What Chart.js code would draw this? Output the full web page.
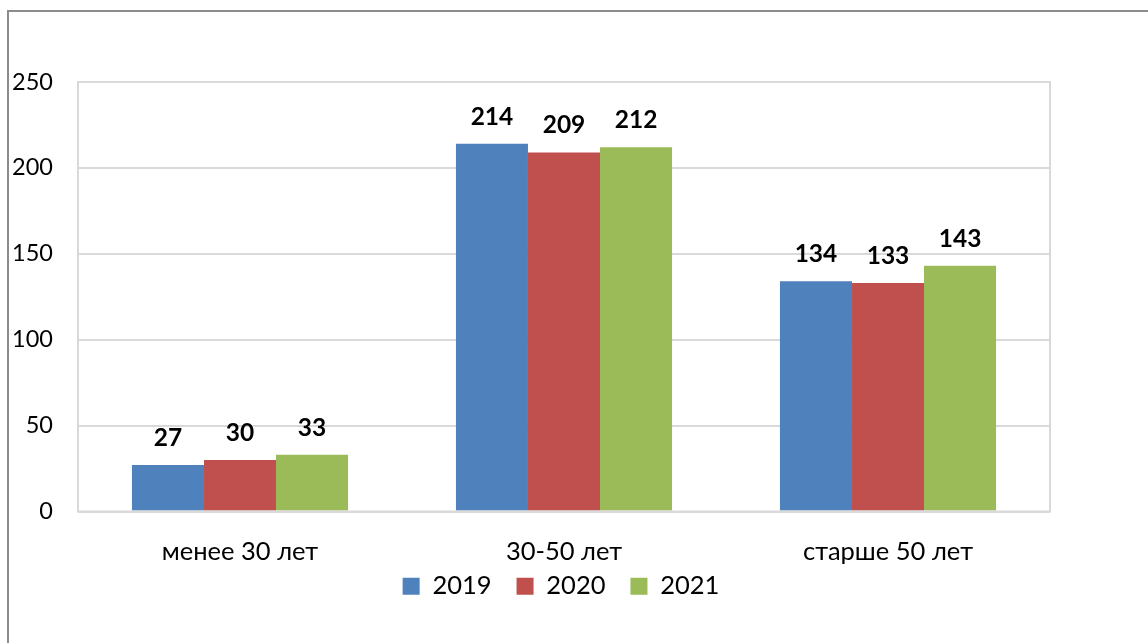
<!DOCTYPE html>
<html>
<head>
<meta charset="utf-8">
<script src="https://cdn.jsdelivr.net/npm/chart.js@4.4.1/dist/chart.umd.min.js"></script>
<style>
  html, body { margin: 0; padding: 0; background: #fff; }
  body { width: 1148px; height: 643px; position: relative; overflow: hidden; }
  #frame {
    position: absolute; left: 7px; top: 10px; width: 1200px; height: 700px;
    border-top: 2px solid #8c8c8c; border-left: 2px solid #8c8c8c;
  }
  #wrap { position: absolute; left: 0; top: 0; width: 1148px; height: 643px; }
</style>
</head>
<body>
<div id="frame"></div>
<div id="wrap"><canvas id="c" width="1148" height="643"></canvas></div>
<script>
// Age groups and staff counts per year
const categories = ['менее 30 лет', '30-50 лет', 'старше 50 лет'];
const years = ['2019', '2020', '2021'];
const values2019 = [27, 214, 134];
const values2020 = [30, 209, 133];
const values2021 = [33, 212, 143];
const yTicks = [0, 50, 100, 150, 200, 250];

const colors = ['#4f81bd', '#c0504d', '#9bbb59'];
const FONT = 'Lato, Carlito, Calibri, "Open Sans", sans-serif';

// Frame around the plot area
const plotBorder = {
  id: 'plotBorder',
  afterDraw(chart) {
    const a = chart.chartArea, ctx = chart.ctx;
    ctx.save();
    ctx.strokeStyle = '#d9d9d9';
    ctx.lineWidth = 2;
    ctx.strokeRect(a.left, a.top, a.right - a.left, a.bottom - a.top);
    ctx.restore();
  }
};

// Bold value labels above each bar
const valueLabels = {
  id: 'valueLabels',
  afterDatasetsDraw(chart) {
    const ctx = chart.ctx;
    ctx.save();
    ctx.font = 'bold 24.5px ' + FONT;
    ctx.fillStyle = '#000';
    ctx.textAlign = 'center';
    ctx.textBaseline = 'middle';
    chart.data.datasets.forEach((ds, i) => {
      chart.getDatasetMeta(i).data.forEach((bar, j) => {
        ctx.fillText(String(ds.data[j]), bar.x, bar.y - 27);
      });
    });
    ctx.restore();
  }
};

// Pull the legend up closer to the category labels and centre it on the frame
const legendPlacement = {
  id: 'legendPlacement',
  afterLayout(chart) {
    const lg = chart.legend;
    if (!lg) return;
    const dy = 23, dx = 36;
    lg.top -= dy; lg.bottom -= dy;
    lg.left += dx; lg.right += dx;
  }
};

new Chart(document.getElementById('c'), {
  type: 'bar',
  data: {
    labels: categories,
    datasets: [
      { label: years[0], data: values2019, backgroundColor: colors[0] },
      { label: years[1], data: values2020, backgroundColor: colors[1] },
      { label: years[2], data: values2021, backgroundColor: colors[2] }
    ]
  },
  options: {
    responsive: false,
    animation: false,
    devicePixelRatio: 1,
    layout: { padding: { left: 0, right: 98, top: 82, bottom: 11 } },
    datasets: { bar: { barPercentage: 1.0, categoryPercentage: 0.667, borderWidth: 0 } },
    scales: {
      x: {
        grid: { display: false, drawTicks: false },
        border: { display: false },
        ticks: { color: '#000', font: { family: FONT, size: 25.5 }, padding: 25 },
        afterFit(scale) { scale.height = 60; }
      },
      y: {
        min: 0, max: 250,
        afterBuildTicks(scale) { scale.ticks = yTicks.map(v => ({ value: v })); },
        grid: { color: '#d9d9d9', lineWidth: 2, drawTicks: false },
        border: { display: false },
        ticks: { color: '#000', font: { family: FONT, size: 23.5 }, padding: 25 },
        afterFit(scale) { scale.width = 78; }
      }
    },
    plugins: {
      title: { display: false },
      tooltip: { enabled: false },
      legend: {
        position: 'bottom',
        labels: {
          color: '#000',
          font: { family: FONT, size: 25.5 },
          boxWidth: 17, boxHeight: 17,
          padding: 25
        }
      }
    }
  },
  plugins: [plotBorder, valueLabels, legendPlacement]
});
</script>
</body>
</html>
